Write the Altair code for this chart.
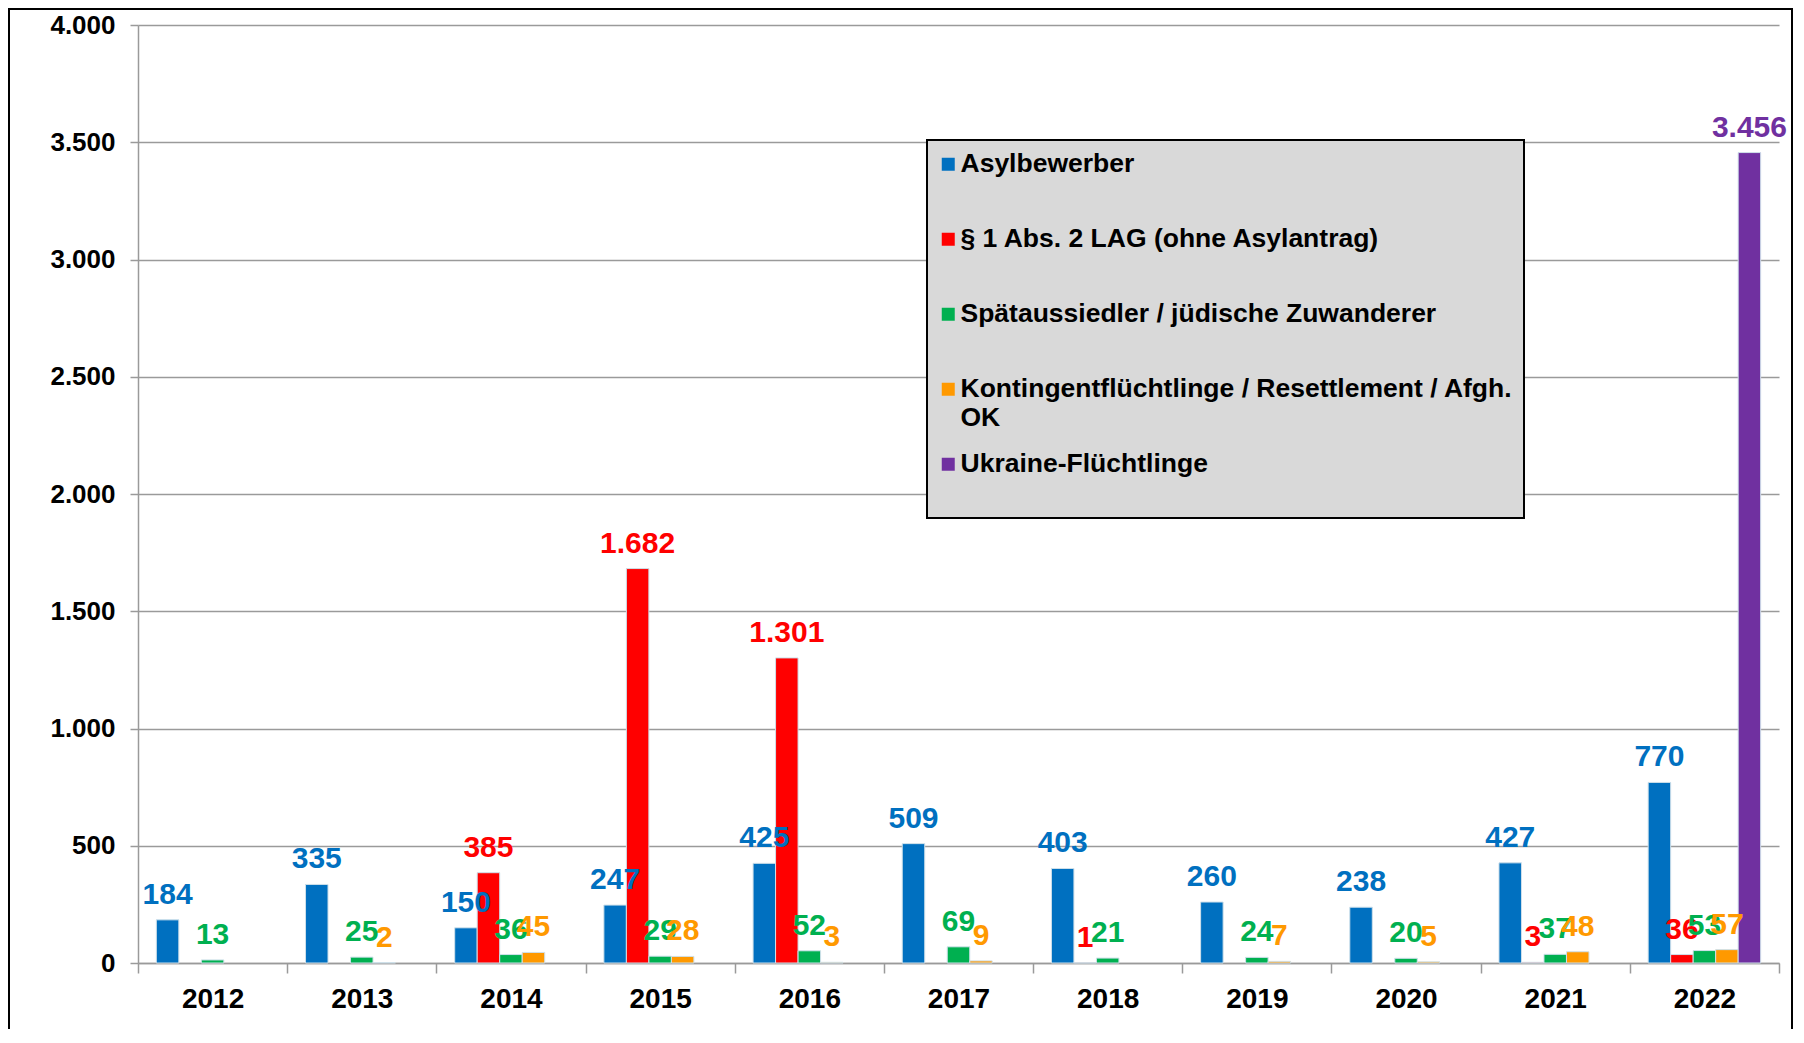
import altair as alt
import pandas as pd

FONT = "Liberation Sans"

years = ["2012", "2013", "2014", "2015", "2016", "2017", "2018", "2019", "2020", "2021", "2022"]
series = [
    "Asylbewerber",
    "§ 1 Abs. 2 LAG (ohne Asylantrag)",
    "Spätaussiedler / jüdische Zuwanderer",
    "Kontingentflüchtlinge / Resettlement / Afgh. OK",
    "Ukraine-Flüchtlinge",
]
colors = ["#0070C0", "#FF0000", "#00B050", "#FF9900", "#7030A0"]

asyl = [184, 335, 150, 247, 425, 509, 403, 260, 238, 427, 770]
lag = [None, None, 385, 1682, 1301, None, 1, None, None, 3, 36]
spaet = [13, 25, 36, 29, 52, 69, 21, 24, 20, 37, 53]
konting = [None, 2, 45, 28, 3, 9, None, 7, 5, 48, 57]
ukraine = [None, None, None, None, None, None, None, None, None, None, 3456]

y_ticks = [0, 500, 1000, 1500, 2000, 2500, 3000, 3500, 4000]

rows = []
for s, vals in zip(series, [asyl, lag, spaet, konting, ukraine]):
    for yr, v in zip(years, vals):
        if v is not None:
            rows.append({"year": yr, "series": s, "value": v,
                         "label": f"{v:,}".replace(",", ".")})
df = pd.DataFrame(rows)

GRID = "#9a9a9a"

x_enc = alt.X("year:N", sort=years,
              scale=alt.Scale(paddingInner=0, paddingOuter=0),
              axis=alt.Axis(title=None, labelAngle=0, labelFont=FONT, labelFontSize=28,
                            labelFontWeight="bold", labelColor="black", tickBand="extent",
                            tickSize=10, tickColor=GRID, tickWidth=1.5, domainColor=GRID,
                            domainWidth=1.5, labelPadding=12, grid=False))
xo_enc = alt.XOffset("series:N", sort=series,
                     scale=alt.Scale(domain=series, paddingInner=0, paddingOuter=0.815))
y_enc = alt.Y("value:Q", scale=alt.Scale(domain=[0, 4000], nice=False),
              axis=alt.Axis(title=None, values=y_ticks,
                            labelExpr="replace(format(datum.value, ','), ',', '.')",
                            labelFont=FONT, labelFontSize=26, labelFontWeight="bold",
                            labelColor="black", labelPadding=15, tickSize=8, tickColor=GRID,
                            tickWidth=1.5, domainColor=GRID, domainWidth=1.5,
                            grid=True, gridColor=GRID, gridWidth=1.5))

legend = alt.Legend(
    title=None, orient="none", legendX=789, legendY=115,
    fillColor="#d9d9d9", strokeColor="black", padding=11, rowPadding=19,
    symbolType="square", symbolSize=169, symbolOffset=-3, symbolStrokeWidth=0,
    labelOffset={"expr": "-1"}, labelFont=FONT, labelFontSize=26.5, labelFontWeight="bold",
    labelColor="black", labelLimit=900,
    labelExpr="datum.label == 'Kontingentflüchtlinge / Resettlement / Afgh. OK' ? "
              "['Kontingentflüchtlinge / Resettlement / Afgh.', 'OK'] : [datum.label, ' ']",
)

frame = alt.Chart(pd.DataFrame({"a": [0]})).mark_rect(
    fillOpacity=0, stroke="black", strokeWidth=2
).encode(x=alt.value(-129), x2=alt.value(1654), y=alt.value(-16), y2=alt.value(1100))

bars = alt.Chart(df).mark_bar(stroke="#cfe0ea", strokeWidth=1).encode(
    x=x_enc, xOffset=xo_enc, y=y_enc,
    color=alt.Color("series:N", sort=series,
                    scale=alt.Scale(domain=series, range=colors), legend=legend),
)

texts = alt.Chart(df).mark_text(
    baseline="alphabetic", dy=-16, font=FONT, fontSize=30, fontWeight="bold"
).encode(
    x=x_enc, xOffset=xo_enc, y=y_enc, text="label:N",
    fill=alt.Fill("series:N", scale=alt.Scale(domain=series, range=colors), legend=None),
)

chart = alt.layer(frame, bars, texts).properties(
    width=1641, height=938,
    padding={"left": 130, "top": 17, "right": 17, "bottom": 66},
    autosize=alt.AutoSizeParams(type="none"),
    background="white",
).configure_view(stroke=None).configure_legend(strokeWidth=2)

chart.save("out.html", embed_options={"renderer": "svg", "actions": False})
